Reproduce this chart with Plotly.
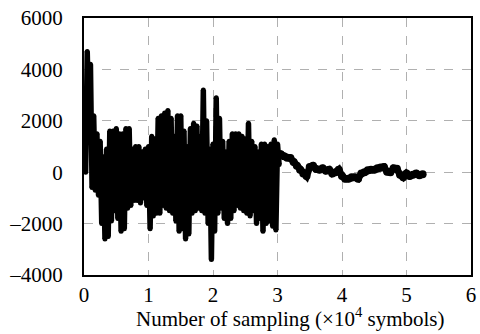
import plotly.graph_objects as go

# Dense oscillating part (x in units of 1e4 symbols), step 0.05 from 0 to 3.0
x_dense = [round(i * 0.05, 2) for i in range(61)]
upper = [2800, 4700, 4200, 2200, 1500, 1200, 600, 900, 1600, 1600,
         1700, 1500, 1500, 1700, 1700, 900, 1000, 1000, 800, 900,
         1000, 1400, 1300, 2100, 2200, 2300, 2400, 2100, 1400, 2200,
         2200, 1600, 1000, 1700, 1900, 1800, 1400, 3200, 2000, 900,
         1100, 2900, 2100, 1200, 800, 1200, 1500, 1500, 1500, 1400,
         1300, 1900, 1200, 1000, 800, 1100, 1100, 1000, 1100, 1260, 1100]
lower = [0, 2000, -600, -700, -900, -2000, -2600, -2500, -1900, -1500,
         -1800, -2300, -2200, -1400, -1300, -1100, -1100, -1200, -1000, -1300,
         -2200, -1700, -1600, -1600, -1300, -1400, -1500, -1600, -1900, -2300,
         -2200, -2600, -2400, -1600, -1500, -1400, -1500, -1600, -2000, -3400,
         -2300, -1600, -1400, -1800, -2000, -1800, -1500, -1300, -1400, -1500,
         -1600, -1700, -1500, -2000, -1800, -2300, -2000, -1900, -2100, -2250, 300]

# Settled part, step 0.05 from 3.0 to 5.25
x_tail = [round(3.0 + i * 0.05, 2) for i in range(46)]
tail = [650, 700, 620, 560, 550, 400, 250, 100, -50, -150,
        200, 250, 120, 100, 150, 60, 100, -50, 0, 100,
        -150, -250, -250, -200, -200, -250, -50, 0, 80, 100,
        100, 150, 180, 200, 20, 0, 150, 130, -100, -200,
        -50, -150, -100, -50, -120, -80]

xs, ys = [], []
for xv, hv, lv in zip(x_dense, upper, lower):
    xs += [xv, xv + 0.025]
    ys += [hv, lv]

fig = go.Figure()
fig.add_trace(go.Scatter(x=xs, y=ys, mode="lines+markers",
                         line=dict(color="black", width=5.5),
                         marker=dict(color="black", size=5)))
fig.add_trace(go.Scatter(x=x_tail, y=tail, mode="lines+markers",
                         line=dict(color="black", width=7),
                         marker=dict(color="black", size=8)))

yticks = [-4000, -2000, 0, 2000, 4000, 6000]
ytext = ["\u20134000", "\u20132000", "0", "2000", "4000", "6000"]
xticks = [0, 1, 2, 3, 4, 5, 6]

fig.update_layout(
    width=480, height=334,
    margin=dict(l=84, r=4, t=18, b=59),
    paper_bgcolor="white", plot_bgcolor="white",
    showlegend=False,
    font=dict(family="Liberation Serif", size=21, color="black"),
    xaxis=dict(range=[0, 6], tickvals=xticks, showline=True, linecolor="black",
               linewidth=2, mirror=True, showgrid=True, gridcolor="#b0b0b0",
               griddash="dash", gridwidth=1, zeroline=False, ticks="",
               ticklabelstandoff=0),
    yaxis=dict(range=[-4000, 6000], tickvals=yticks, ticktext=ytext,
               showline=True, linecolor="black", linewidth=2, mirror=True,
               showgrid=True, gridcolor="#b0b0b0", griddash="dash", gridwidth=1,
               zeroline=False, ticks="", ticklabelstandoff=15),
    annotations=[dict(text="Number of sampling (×10<sup>4</sup> symbols)",
                      xref="paper", yref="paper", x=0.533, y=-0.167,
                      xanchor="center", yanchor="middle", showarrow=False,
                      font=dict(size=21))],
)

fig.write_html("out.html")
